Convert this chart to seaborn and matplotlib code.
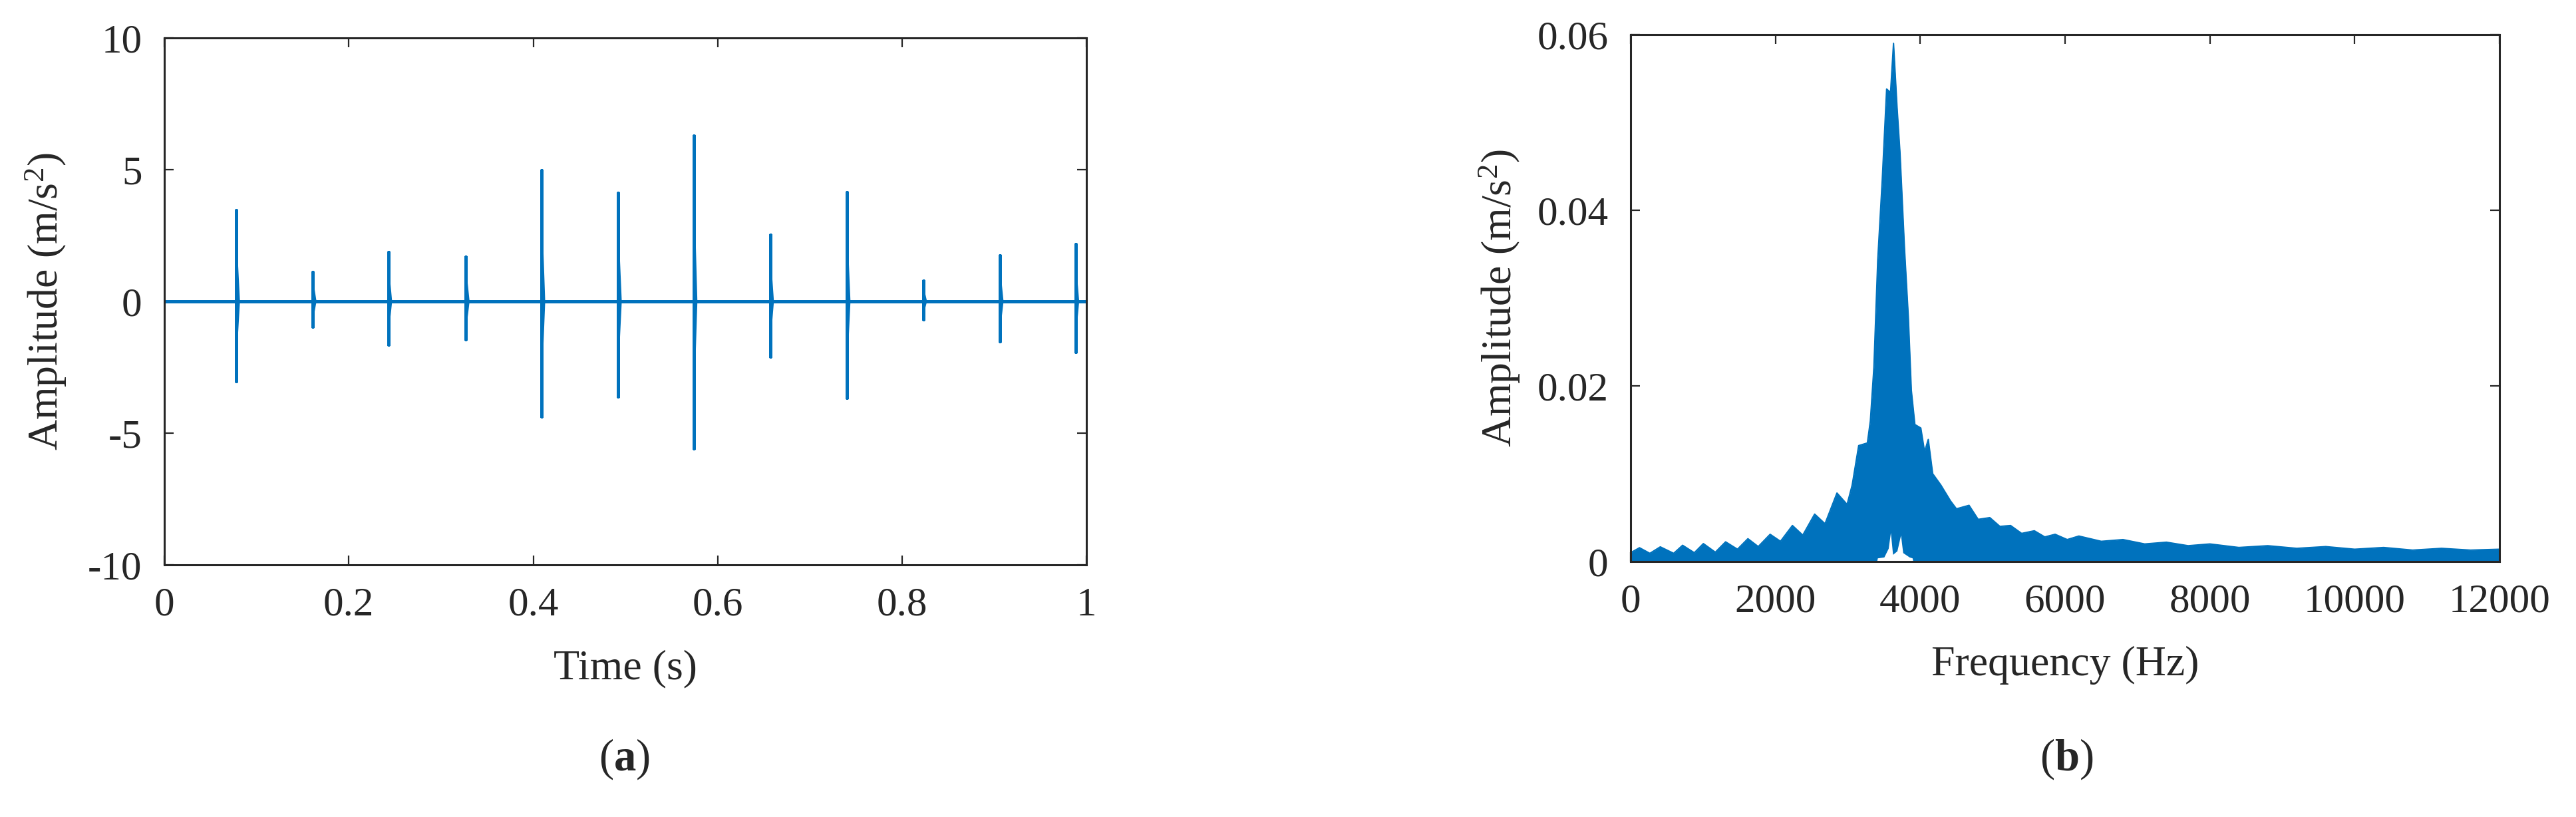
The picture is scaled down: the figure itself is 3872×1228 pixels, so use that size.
import numpy as np
import matplotlib
matplotlib.use('Agg')
import matplotlib.pyplot as plt
import seaborn as sns

# (a) impulse train: time of each impact, positive and negative peak amplitude
impulse_time = [0.078, 0.161, 0.243, 0.327, 0.409, 0.492, 0.574, 0.657, 0.740, 0.823, 0.906, 0.988]
impulse_pos = [3.45, 1.12, 1.88, 1.68, 4.98, 4.12, 6.30, 2.52, 4.15, 0.78, 1.74, 2.16]
impulse_neg = [-3.02, -0.96, -1.65, -1.44, -4.38, -3.62, -5.58, -2.10, -3.66, -0.67, -1.52, -1.93]

# (b) amplitude spectrum, upper envelope
spec_freq = [0, 123, 266, 410, 595, 718, 880, 1005, 1170, 1312, 1476, 1620, 1763, 1927,
             2070, 2235, 2378, 2542, 2685, 2850, 2990, 3060, 3150, 3270, 3311, 3360, 3413,
             3475, 3536, 3590, 3631, 3680, 3721, 3783, 3836, 3877, 3926, 4008, 4060, 4111,
             4172, 4285, 4418, 4500, 4674, 4800, 4961, 5100, 5248, 5400, 5576, 5720, 5863,
             6030, 6191, 6500, 6800, 7100, 7400, 7700, 8000, 8400, 8800, 9200, 9600, 10000,
             10400, 10800, 11200, 11600, 12000]
spec_upper = [0.0010, 0.00157, 0.00093, 0.00167, 0.00093, 0.00185, 0.00100, 0.00204, 0.00106,
              0.00224, 0.00140, 0.0026, 0.0017, 0.0031, 0.0023, 0.0041, 0.0030, 0.0054, 0.0043,
              0.0078, 0.0065, 0.0087, 0.0132, 0.0135, 0.0160, 0.0221, 0.0343, 0.0434, 0.0538,
              0.0534, 0.0590, 0.0517, 0.0465, 0.0356, 0.0278, 0.0195, 0.0156, 0.0152, 0.0125,
              0.0139, 0.0100, 0.0087, 0.0069, 0.0060, 0.0064, 0.0048, 0.0050, 0.0040, 0.0041,
              0.0032, 0.0035, 0.0028, 0.0031, 0.0025, 0.0029, 0.0023, 0.0025, 0.0020, 0.0022,
              0.0018, 0.0020, 0.0016, 0.0018, 0.0015, 0.0017, 0.0014, 0.0016, 0.0013, 0.0015,
              0.0013, 0.0014]
# lower envelope only lifts off zero around the resonance
notch_freq = [3400, 3410, 3500, 3560, 3590, 3620, 3680, 3730, 3760, 3850, 3890, 3900]
notch_lower = [0.0, 0.0004, 0.0005, 0.0015, 0.0033, 0.0008, 0.0012, 0.0030, 0.0010, 0.0005, 0.0004, 0.0]

sns.set_theme(style='ticks')
plt.rcParams.update({
    'font.family': ['Liberation Serif', 'DejaVu Serif'],
    'mathtext.fontset': 'custom',
    'mathtext.rm': 'Liberation Serif',
    'mathtext.it': 'Liberation Serif:italic',
    'mathtext.bf': 'Liberation Serif:bold',
    'mathtext.default': 'regular',
    'axes.unicode_minus': False,
    'axes.edgecolor': '#262626',
    'axes.linewidth': 2.2,
})

blue = '#0072BD'
tick_fs = 44
label_fs = 46
decay_width = 0.004  # visual width of each ringing burst

fig = plt.figure(figsize=(38.72, 12.28), dpi=100)
ax1 = fig.add_axes([0.0638, 0.3086, 0.3580, 0.6450])
ax2 = fig.add_axes([0.6330, 0.3127, 0.3373, 0.6450])

# build the signal path from the impulse table
sig_t = [0.0]
sig_a = [0.0]
for t, p, n in zip(impulse_time, impulse_pos, impulse_neg):
    sig_t += [t, t, t, t]
    sig_a += [0.0, p, n, 0.0]
sig_t.append(1.0)
sig_a.append(0.0)

sns.lineplot(x=sig_t, y=sig_a, sort=False, estimator=None, color=blue, linewidth=3.6, ax=ax1)
# slight decay tail to the right of each burst
for t, p, n in zip(impulse_time, impulse_pos, impulse_neg):
    ax1.fill([t, t + decay_width, t], [p * 0.8, 0, n * 0.8], color=blue, linewidth=0)
ax1.set_xlim(0, 1)
ax1.set_ylim(-10, 10)
ax1.set_xticks([0, 0.2, 0.4, 0.6, 0.8, 1])
ax1.set_xticklabels(['0', '0.2', '0.4', '0.6', '0.8', '1'])
ax1.set_yticks([-10, -5, 0, 5, 10])
ax1.set_yticklabels(['-10', '-5', '0', '5', '10'])
ax1.set_xlabel('Time (s)', fontsize=label_fs)
ax1.set_ylabel('Amplitude (m/s$^2$)', fontsize=label_fs)
ax1.xaxis.set_label_coords(0.5, -0.197)
ax1.yaxis.set_label_coords(-0.128, 0.5)

# spectrum
ax2.fill_between(spec_freq, 0, spec_upper, color=blue, linewidth=0)
sns.lineplot(x=spec_freq, y=spec_upper, sort=False, estimator=None, color=blue, linewidth=1.5, ax=ax2)
ax2.fill_between(notch_freq, 0, notch_lower, color='white', linewidth=0)
ax2.set_xlim(0, 12000)
ax2.set_ylim(0, 0.06)
ax2.set_xticks([0, 2000, 4000, 6000, 8000, 10000, 12000])
ax2.set_xticklabels(['0', '2000', '4000', '6000', '8000', '10000', '12000'])
ax2.set_yticks([0, 0.02, 0.04, 0.06])
ax2.set_yticklabels(['0', '0.02', '0.04', '0.06'])
ax2.set_xlabel('Frequency (Hz)', fontsize=label_fs)
ax2.set_ylabel('Amplitude (m/s$^2$)', fontsize=label_fs)
ax2.xaxis.set_label_coords(0.5, -0.197)
ax2.yaxis.set_label_coords(-0.151, 0.5)

for ax in (ax1, ax2):
    ax.tick_params(direction='in', top=True, right=True, length=10, width=1.6,
                   labelsize=tick_fs, pad=24, colors='#262626')
    ax.xaxis.label.set_verticalalignment('center')
    ax.yaxis.label.set_verticalalignment('center')
    ax.xaxis.label.set_color('#262626')
    ax.yaxis.label.set_color('#262626')
    for s in ax.spines.values():
        s.set_visible(True)

fig.text(938 / 3872, 1 - 1141 / 1228, '($\\mathbf{a}$)', fontsize=48, ha='center', va='center')
fig.text(3106 / 3872, 1 - 1141 / 1228, '($\\mathbf{b}$)', fontsize=48, ha='center', va='center')

fig.savefig('out.png', dpi=100)
